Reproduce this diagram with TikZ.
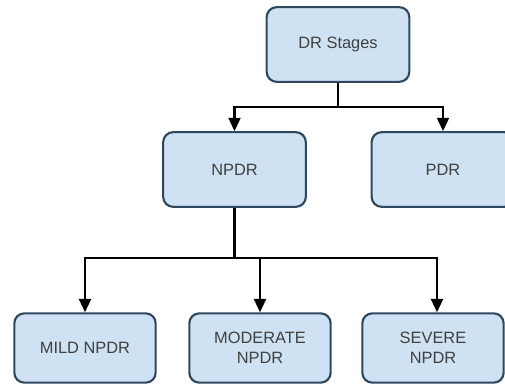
\documentclass[tikz,border=0pt]{standalone}
\usepackage{fontspec}
\setmainfont{Liberation Sans}
\usetikzlibrary{arrows.meta}
\definecolor{boxfill}{HTML}{CFE2F3}
\definecolor{boxedge}{HTML}{2E4860}
\definecolor{boxtext}{HTML}{404040}
\begin{document}
\begin{tikzpicture}[x=0.75pt,y=-0.75pt,
  stage/.style={draw=boxedge, fill=boxfill, line width=1.6pt, rounded corners=7.5pt,
    text=boxtext, align=center, inner sep=0pt,
    font=\fontsize{12.3}{15}\selectfont},
  wide/.style={minimum width=107pt, minimum height=56pt},
  low/.style={minimum width=106pt, minimum height=52pt},
  link/.style={line width=1.6pt, black},
  tip/.style={link, -{Triangle[width=9pt,length=10pt]}}]
\useasboundingbox (0,0) rectangle (505,385);
\clip (0,0) rectangle (505,385);
% upper level
\node[stage, wide] (dr)   at (338,44.5)  {DR Stages};
\node[stage, wide] (npdr) at (234.5,169.5) {NPDR};
\node[stage, wide] (pdr)  at (443,169.5) {PDR};
% lower level
\node[stage, low] (mild) at (85,348)  {MILD NPDR};
\node[stage, low] (mod)  at (260,348) {MODERATE\\NPDR};
\node[stage, low] (sev)  at (433,348) {SEVERE\\NPDR};
% junction points
\coordinate (j1) at (338,107);
\coordinate (j2) at (234.5,258);
% connectors
\draw[link] (dr.south) -- (j1);
\draw[tip] (j1) -| (npdr.north);
\draw[tip] (j1) -| (pdr.north);
\draw[link] (npdr.south) -- (j2);
\draw[tip] (j2) -| (mild.north);
\draw[tip] (j2) -| ([xshift=0pt]mod.north);
\draw[tip] (j2) -| ([xshift=3pt]sev.north);
\end{tikzpicture}
\end{document}
